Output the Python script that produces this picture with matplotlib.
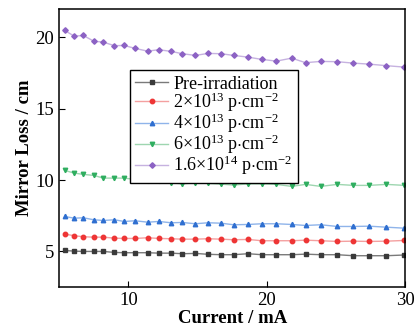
import matplotlib
matplotlib.use("Agg")
import matplotlib.pyplot as plt

current = [5.4, 6.1, 6.75, 7.5, 8.2, 9.0, 9.7, 10.5, 11.4, 12.2, 13.1, 13.9, 14.85,
           15.75, 16.7, 17.6, 18.65, 19.65, 20.7, 21.8, 22.8, 23.9, 25.1, 26.25,
           27.4, 28.65, 29.95]

pre = [5.07, 5.02, 5.0, 5.0, 5.0, 4.93, 4.91, 4.91, 4.91, 4.88, 4.88, 4.84, 4.86,
       4.80, 4.77, 4.77, 4.84, 4.77, 4.77, 4.77, 4.81, 4.77, 4.77, 4.70, 4.70,
       4.70, 4.75]
f2e13 = [6.22, 6.10, 6.03, 6.00, 6.00, 5.93, 5.91, 5.91, 5.96, 5.91, 5.89, 5.86,
         5.86, 5.89, 5.86, 5.82, 5.84, 5.75, 5.75, 5.75, 5.79, 5.75, 5.70, 5.72,
         5.70, 5.72, 5.77]
f4e13 = [7.45, 7.33, 7.36, 7.22, 7.17, 7.22, 7.10, 7.15, 7.05, 7.10, 7.01, 7.03,
         6.94, 7.01, 6.98, 6.87, 6.89, 6.94, 6.94, 6.89, 6.82, 6.87, 6.75, 6.75,
         6.77, 6.70, 6.63]
f6e13 = [10.68, 10.49, 10.40, 10.33, 10.14, 10.14, 10.14, 10.05, 9.91, 9.91, 9.81,
         9.74, 9.81, 9.77, 9.72, 9.65, 9.74, 9.74, 9.70, 9.56, 9.70, 9.56, 9.70,
         9.63, 9.63, 9.70, 9.63]
f16e14 = [20.49, 20.09, 20.14, 19.74, 19.67, 19.42, 19.44, 19.23, 19.04, 19.14,
          19.02, 18.86, 18.74, 18.88, 18.86, 18.74, 18.62, 18.46, 18.34, 18.55,
          18.23, 18.32, 18.30, 18.2, 18.13, 18.02, 17.92]

labels = ["Pre-irradiation",
          r"2$\times$10$^{13}$ p$\cdot$cm$^{-2}$",
          r"4$\times$10$^{13}$ p$\cdot$cm$^{-2}$",
          r"6$\times$10$^{13}$ p$\cdot$cm$^{-2}$",
          r"1.6$\times$10$^{14}$ p$\cdot$cm$^{-2}$"]

plt.rcParams["font.family"] = "Liberation Serif"
plt.rcParams["mathtext.fontset"] = "custom"
plt.rcParams["mathtext.rm"] = "Liberation Serif"
plt.rcParams["mathtext.it"] = "Liberation Serif"

fig = plt.figure(figsize=(4.16, 3.30), dpi=100)
ax = fig.add_axes([0.142, 0.130, 0.832, 0.843])

series = [pre, f2e13, f4e13, f6e13, f16e14]
line_cols = ["#7a7a7a", "#f4a0a0", "#8fb4ea", "#9ed6b0", "#c6b2e0"]
mark_cols = ["#3a3a3a", "#ee3535", "#2f6fd0", "#2fae60", "#8c62c4"]
markers = ["s", "o", "^", "v", "D"]
for y, lc, mc, mk, lab in zip(series, line_cols, mark_cols, markers, labels):
    ax.plot(current, y, color=lc, lw=1.0, marker=mk, ms=3.2 if mk != "D" else 2.8,
            mfc=mc, mec=mc, label=lab)

ax.set_xlim(5, 30)
ax.set_ylim(2.5, 22)
ax.set_xticks([10, 20, 30])
ax.set_yticks([5, 10, 15, 20])
ax.tick_params(direction="in", labelsize=13.5, length=4)
for s in ax.spines.values():
    s.set_linewidth(1.1)
ax.set_xlabel("Current / mA", fontsize=13.5, fontweight="bold", labelpad=1)
ax.set_ylabel("Mirror Loss / cm", fontsize=13.5, fontweight="bold", labelpad=2)

leg = ax.legend(loc="upper left", bbox_to_anchor=(0.205, 0.78), fontsize=13,
                fancybox=False, edgecolor="black", framealpha=1,
                borderpad=0.3, labelspacing=-0.12, handlelength=1.8,
                handletextpad=0.3, borderaxespad=0)
leg.get_frame().set_linewidth(1.0)

fig.savefig("out.png", dpi=100)
